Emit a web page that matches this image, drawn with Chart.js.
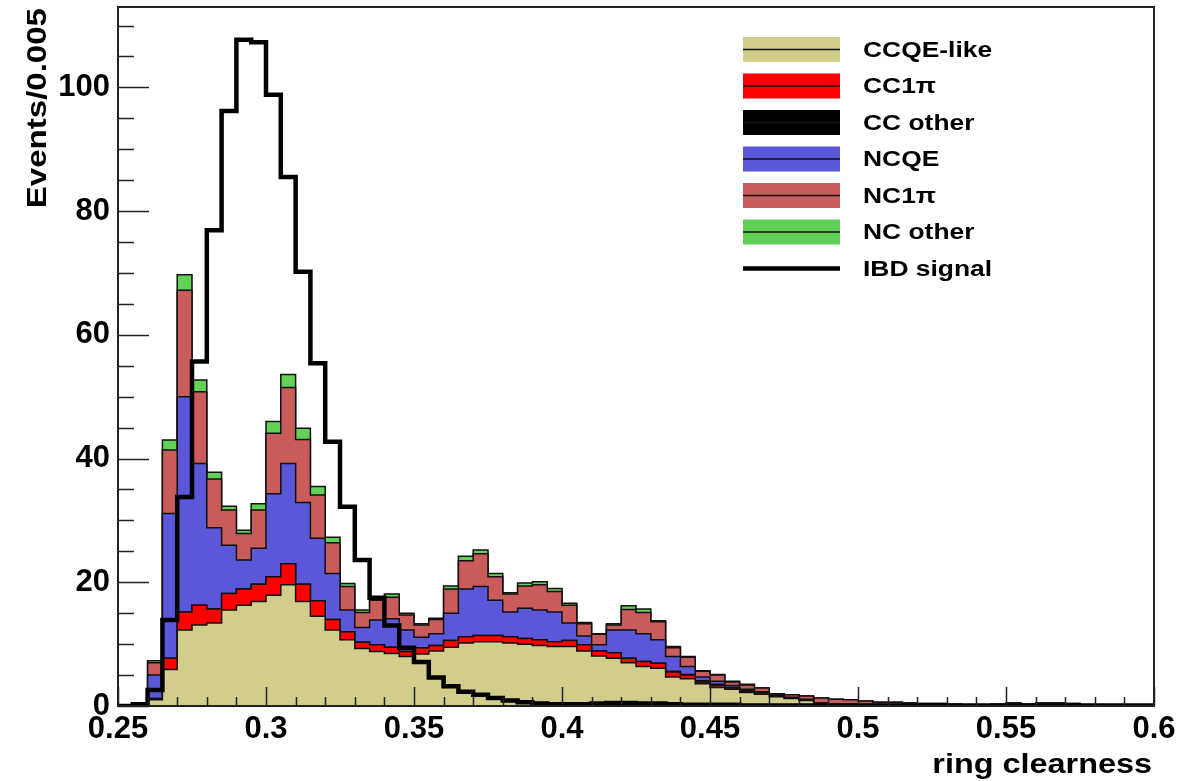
<!DOCTYPE html>
<html><head><meta charset="utf-8">
<script src="https://cdn.jsdelivr.net/npm/chart.js@4.4.1/dist/chart.umd.min.js"></script>
<style>
html,body{margin:0;padding:0;background:#fff;}
canvas{display:block;}
</style></head><body>
<canvas id="c" width="1204" height="781"></canvas>
<script>
// Bin edges (ring clearness), 70 bins of width 0.005
const binEdges = [0.250,0.255,0.260,0.265,0.270,0.275,0.280,0.285,0.290,0.295,
  0.300,0.305,0.310,0.315,0.320,0.325,0.330,0.335,0.340,0.345,
  0.350,0.355,0.360,0.365,0.370,0.375,0.380,0.385,0.390,0.395,
  0.400,0.405,0.410,0.415,0.420,0.425,0.430,0.435,0.440,0.445,
  0.450,0.455,0.460,0.465,0.470,0.475,0.480,0.485,0.490,0.495,
  0.500,0.505,0.510,0.515,0.520,0.525,0.530,0.535,0.540,0.545,
  0.550,0.555,0.560,0.565,0.570,0.575,0.580,0.585,0.590,0.595,0.600];

const ccqeLike = [0,0,1.0,5.9,12.3,13.1,13.4,15.5,16.3,16.9,
  17.9,19.6,16.9,14.5,12.3,10.7,9.3,8.8,8.5,8.0,
  8.4,8.9,9.5,10.2,10.4,10.4,10.2,10.0,9.8,9.6,
  9.6,8.9,8.1,7.7,7.0,6.4,6.1,4.7,4.4,3.6,
  3.0,2.7,2.2,1.9,1.5,1.2,0.9,0.3,0.2,0.2,
  0.1,0.1,0.1,0.1,0.1,0.1,0,0,0,0,
  0,0,0,0,0,0,0,0,0,0];
const cc1pi = [0,0,0.2,1.8,2.9,3.2,2.3,2.7,2.6,2.8,
  3.0,3.4,2.8,2.5,1.7,1.3,1.0,1.1,1.0,0.8,
  1.0,0.9,1.1,1.0,1.0,1.0,1.0,0.9,0.9,0.8,
  1.0,1.0,0.8,0.9,0.7,0.8,0.8,0.8,0.6,0.3,
  0.3,0.2,0.2,0.2,0.2,0.1,0.1,0.1,0,0,
  0,0,0,0,0,0,0,0,0,0,
  0,0,0,0,0,0,0,0,0,0];
const ccOther = [0,0,0,0,0,0,0,0,0,0,
  0,0,0,0,0,0,0,0,0,0,
  0,0,0,0,0,0,0,0,0,0,
  0,0,0,0,0,0,0,0.1,0.1,0.2,
  0.2,0.1,0.1,0.1,0,0,0,0,0,0,
  0,0,0,0,0,0,0,0,0,0,
  0,0,0,0,0,0,0,0,0,0];
const ncqe = [0,0,3.8,23.4,34.8,22.9,13.1,7.8,4.7,5.8,
  13.4,16.2,13.2,10.1,7.4,3.5,2.4,4.0,4.6,3.5,
  1.7,1.9,4.4,7.7,7.9,5.7,4.0,4.9,4.8,4.8,
  2.8,1.4,1.0,3.7,4.6,4.5,3.8,2.4,1.3,0.6,
  0.5,0.3,0.2,0.1,0.1,0.1,0.1,0.1,0.1,0.1,
  0.1,0.1,0,0,0,0,0,0,0,0,
  0,0,0,0,0,0,0,0,0,0];
const nc1pi = [0,0,2.0,10.3,17.2,11.6,7.9,5.7,4.3,6.2,
  9.8,12.3,10.2,7.0,5.0,3.8,2.4,3.2,3.5,2.4,
  2.0,2.3,3.9,4.6,5.3,3.8,2.9,3.6,4.1,3.3,
  2.9,2.0,1.7,0.8,3.3,3.4,2.9,1.4,1.5,0.9,
  1.0,0.6,0.7,0.6,0.2,0.4,0.5,0.8,0.8,0.7,
  0.6,0.4,0.5,0.4,0.3,0.3,0.3,0.2,0.2,0.3,
  0.5,0.3,0.5,0.5,0.4,0.2,0.2,0.1,0.2,0.1];
const ncOther = [0,0,0.3,1.6,2.5,1.9,1.1,0.6,0.5,1.0,
  1.9,2.1,1.8,1.4,0.9,0.5,0.4,0.3,0.5,0.3,
  0.2,0.2,0.5,0.7,0.6,0.5,0.2,0.5,0.5,0.5,
  0.3,0.2,0.1,0.2,0.6,0.6,0.2,0.2,0.1,0.1,
  0.1,0.1,0.1,0,0,0,0,0,0,0,
  0,0,0,0,0,0,0,0,0,0,
  0,0,0,0,0,0,0,0,0,0];
const ibdSignal = [0,0.3,2.6,13.9,33.8,55.7,76.9,96.2,107.7,107.3,
  98.8,85.5,70.2,55.4,42.7,32.2,23.6,17.5,13.0,9.4,
  7.1,4.6,3.2,2.3,1.8,1.3,0.9,0.6,0.4,0.3,
  0.3,0.3,0.4,0.5,0.5,0.4,0.4,0.3,0.2,0.2,
  0.2,0.2,0.1,0.1,0.1,0.1,0.1,0.1,0.1,0.1,
  0.1,0.1,0.1,0.1,0.1,0.1,0.1,0.1,0.1,0.1,
  0.1,0.1,0.1,0.1,0.1,0.1,0.1,0.1,0.1,0.1];

const seriesNames = ['CCQE-like','CC1\u03c0','CC other','NCQE','NC1\u03c0','NC other','IBD signal'];
const seriesColors = ['#d3cd8c','#ff0000','#000000','#5a58d8','#c95b5b','#63d155','#000000'];
const xTickValues = [0.25,0.3,0.35,0.4,0.45,0.5,0.55,0.6];
const xTickLabels = ['0.25','0.3','0.35','0.4','0.45','0.5','0.55','0.6'];
const yTickValues = [0,20,40,60,80,100];
const yTickLabels = ['0','20','40','60','80','100'];
const xTitle = 'ring clearness';
const yTitle = 'Events/0.005';

const components = [ccqeLike, cc1pi, ccOther, ncqe, nc1pi, ncOther];
function toPoints(vals){
  return binEdges.map((x,i)=>({x:x, y: vals[Math.min(i, vals.length-1)]}));
}
const cumulative = [];
let run = new Array(ccqeLike.length).fill(0);
components.forEach(c=>{ run = run.map((v,i)=>v + c[i]); cumulative.push(run.slice()); });

const datasets = [{
  label: seriesNames[6], data: toPoints(ibdSignal), stepped:'before',
  borderColor:'#000', borderWidth:4.5, pointRadius:0, fill:false, tension:0
}];
cumulative.forEach((cum,k)=>{
  datasets.push({
    label: seriesNames[k], data: toPoints(cum), stepped:'before',
    borderColor:'#111', borderWidth:1.5, backgroundColor: seriesColors[k],
    pointRadius:0, tension:0, fill: k===0 ? 'origin' : '-1'
  });
});

const FONT = '"Liberation Sans", Arial, sans-serif';
const SX = 1.2; // horizontal text stretch of the original

function stretchedText(ctx, text, x, y, align){
  ctx.save();
  ctx.translate(x, y);
  ctx.scale(SX, 1);
  ctx.textAlign = align;
  ctx.fillText(text, 0, 0);
  ctx.restore();
}

const rootDecor = {
  id:'rootDecor',
  afterDatasetsDraw(chart){
    const ctx = chart.ctx, a = chart.chartArea;
    const xs = chart.scales.x, ys = chart.scales.y;
    ctx.save();
    ctx.strokeStyle = '#222'; ctx.lineWidth = 1.5;
    ctx.beginPath();
    for (let v = 0; v <= 113; v += 5){
      const y = Math.round(ys.getPixelForValue(v)) + 0.5;
      const len = (v % 20 === 0) ? 31 : 16;
      ctx.moveTo(a.left, y); ctx.lineTo(a.left + len, y);
    }
    for (let k = 0; k <= 35; k++){
      const v = 0.25 + k*0.01;
      const x = Math.round(xs.getPixelForValue(v)) + 0.5;
      const len = (k % 5 === 0) ? 19 : 9;
      ctx.moveTo(x, a.bottom); ctx.lineTo(x, a.bottom - len);
    }
    ctx.stroke();
    ctx.strokeStyle = '#222'; ctx.lineWidth = 2;
    ctx.strokeRect(a.left, a.top, a.right - a.left, a.bottom - a.top);
    ctx.restore();
  },
  afterDraw(chart){
    const ctx = chart.ctx;
    ctx.save();
    const bx0 = 743, bx1 = 840, bh = 25;
    const rows = [49.5, 86, 122.5, 159, 195.5, 232];
    ctx.font = 'bold 22px ' + FONT;
    ctx.textBaseline = 'middle';
    for (let k = 0; k < 6; k++){
      const cy = rows[k];
      ctx.fillStyle = seriesColors[k];
      ctx.fillRect(bx0, cy - bh/2, bx1 - bx0, bh);
      ctx.strokeStyle = '#111'; ctx.lineWidth = 1.5;
      ctx.beginPath(); ctx.moveTo(bx0, cy); ctx.lineTo(bx1, cy); ctx.stroke();
      ctx.fillStyle = '#000';
      stretchedText(ctx, seriesNames[k], 863, cy + 1, 'left');
    }
    const iy = 268.5;
    ctx.strokeStyle = '#000'; ctx.lineWidth = 4.5;
    ctx.beginPath(); ctx.moveTo(bx0, iy); ctx.lineTo(bx1, iy); ctx.stroke();
    ctx.fillStyle = '#000';
    stretchedText(ctx, seriesNames[6], 863, iy + 1, 'left');
    // x title
    ctx.font = 'bold 27px ' + FONT;
    ctx.textBaseline = 'alphabetic';
    stretchedText(ctx, xTitle, 1152, 773, 'right');
    // y title (rotated), stretched along its length
    ctx.save();
    ctx.translate(46, 8);
    ctx.rotate(-Math.PI/2);
    ctx.scale(1.18, 1);
    ctx.font = 'bold 28px ' + FONT;
    ctx.textAlign = 'right'; ctx.textBaseline = 'alphabetic';
    ctx.fillText(yTitle, 0, 0);
    ctx.restore();
    ctx.restore();
  }
};

new Chart(document.getElementById('c').getContext('2d'), {
  type:'line',
  data:{ datasets },
  options:{
    responsive:false, animation:false,
    layout:{ padding:{ left:0, right:50, top:7, bottom:0 } },
    plugins:{ legend:{display:false}, tooltip:{enabled:false} },
    scales:{
      x:{ type:'linear', min:0.25, max:0.6,
        grid:{display:false, drawTicks:false}, border:{display:false},
        ticks:{ color:'#000', font:{family:FONT, size:31, weight:'bold'}, padding:5,
          maxRotation:0, autoSkip:false,
          callback:(v,i)=>xTickLabels[i] },
        afterBuildTicks:(s)=>{ s.ticks = xTickValues.map(v=>({value:v})); },
        afterFit:(s)=>{ s.height = 75; s.paddingLeft = 0; s.paddingRight = 0; }
      },
      y:{ type:'linear', min:0, max:113,
        grid:{display:false, drawTicks:false}, border:{display:false},
        ticks:{ color:'#000', font:{family:FONT, size:31, weight:'bold'}, padding:8,
          callback:(v,i)=>yTickLabels[i] },
        afterBuildTicks:(s)=>{ s.ticks = yTickValues.map(v=>({value:v})); },
        afterFit:(s)=>{ s.width = 118; s.paddingTop = 0; s.paddingBottom = 0; }
      }
    }
  },
  plugins:[rootDecor]
});
</script>
</body></html>
